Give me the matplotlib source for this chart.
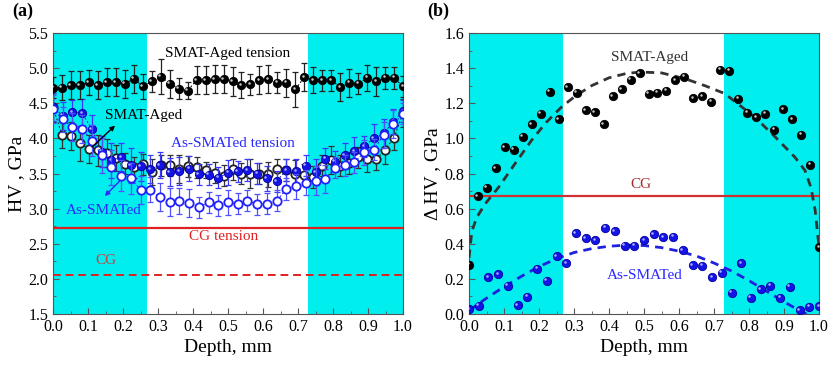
import numpy as np
import matplotlib
matplotlib.use("Agg")
import matplotlib.pyplot as plt
from matplotlib.transforms import offset_copy

plt.rcParams["font.family"] = ["Liberation Serif", "DejaVu Serif"]

## depth positions
x_aged = np.linspace(0, 1, 40)
x_as = np.linspace(0, 1, 37)

## (a) hardness, GPa
aged_tension = [4.72, 4.72, 4.76, 4.76, 4.80, 4.76, 4.80, 4.80, 4.78, 4.85,
                4.74, 4.81, 4.88, 4.78, 4.71, 4.68, 4.83, 4.83, 4.84, 4.84,
                4.81, 4.76, 4.77, 4.83, 4.84, 4.79, 4.79, 4.70, 4.87, 4.83,
                4.83, 4.83, 4.73, 4.79, 4.78, 4.86, 4.81, 4.86, 4.86, 4.74]
aged_tension_err = [0.15, 0.18, 0.20, 0.20, 0.18, 0.20, 0.20, 0.20, 0.20, 0.20,
                    0.18, 0.15, 0.25, 0.20, 0.15, 0.12, 0.20, 0.20, 0.20, 0.20,
                    0.20, 0.18, 0.15, 0.20, 0.20, 0.15, 0.20, 0.25, 0.20, 0.18,
                    0.15, 0.15, 0.20, 0.20, 0.15, 0.18, 0.20, 0.15, 0.15, 0.15]
aged = [4.44, 4.05, 4.04, 3.93, 3.85, 3.83, 3.79, 3.72, 3.64, 3.59,
        3.63, 3.52, 3.62, 3.62, 3.56, 3.60, 3.59, 3.55, 3.51, 3.47,
        3.56, 3.50, 3.50, 3.50, 3.49, 3.56, 3.55, 3.49, 3.48, 3.45,
        3.61, 3.69, 3.61, 3.65, 3.73, 3.70, 3.70, 3.84, 4.01, 4.36]
aged_err = [0.20, 0.18, 0.20, 0.25, 0.20, 0.22, 0.20, 0.18, 0.15, 0.15,
            0.15, 0.18, 0.15, 0.15, 0.20, 0.15, 0.15, 0.12, 0.15, 0.15,
            0.15, 0.15, 0.20, 0.15, 0.18, 0.15, 0.15, 0.20, 0.15, 0.15,
            0.15, 0.20, 0.15, 0.15, 0.15, 0.18, 0.15, 0.20, 0.18, 0.20]
as_tension = [4.45, 4.32, 4.37, 4.36, 4.13, 3.81, 3.69, 3.73, 3.62, 3.60,
              3.56, 3.62, 3.52, 3.53, 3.57, 3.49, 3.48, 3.44, 3.51, 3.53,
              3.55, 3.50, 3.43, 3.39, 3.55, 3.53, 3.61, 3.52, 3.71, 3.67,
              3.76, 3.82, 3.89, 4.00, 4.07, 4.24, 4.39]
as_tension_err = [0.20, 0.20, 0.18, 0.20, 0.20, 0.22, 0.25, 0.20, 0.25, 0.20,
                  0.20, 0.18, 0.20, 0.20, 0.18, 0.15, 0.15, 0.15, 0.18, 0.15,
                  0.15, 0.15, 0.18, 0.15, 0.15, 0.18, 0.15, 0.18, 0.15, 0.15,
                  0.18, 0.20, 0.15, 0.20, 0.20, 0.18, 0.15]
as_smated = [4.42, 4.27, 4.16, 4.13, 3.97, 3.76, 3.59, 3.47, 3.43, 3.27,
             3.27, 3.16, 3.09, 3.11, 3.08, 3.02, 3.09, 3.05, 3.09, 3.07,
             3.11, 3.06, 3.07, 3.11, 3.28, 3.32, 3.37, 3.40, 3.42, 3.58,
             3.62, 3.66, 3.80, 3.84, 4.05, 4.20, 4.35]
as_smated_err = [0.20, 0.18, 0.20, 0.20, 0.22, 0.25, 0.25, 0.22, 0.22, 0.20,
                 0.18, 0.20, 0.20, 0.18, 0.20, 0.15, 0.15, 0.15, 0.18, 0.15,
                 0.15, 0.15, 0.15, 0.15, 0.15, 0.18, 0.18, 0.20, 0.20, 0.15,
                 0.15, 0.15, 0.18, 0.15, 0.18, 0.20, 0.15]
cg_tension = 2.73
cg = 2.06

## (b) delta HV, GPa
d_aged = [0.28, 0.67, 0.72, 0.83, 0.95, 0.935, 1.01, 1.08, 1.14, 1.265,
          1.11, 1.29, 1.26, 1.16, 1.15, 1.08, 1.24, 1.28, 1.335, 1.37,
          1.255, 1.26, 1.27, 1.33, 1.35, 1.23, 1.24, 1.21, 1.39, 1.385,
          1.225, 1.145, 1.12, 1.14, 1.05, 1.165, 1.11, 1.02, 0.85, 0.38]
d_as = [0.027, 0.046, 0.21, 0.227, 0.16, 0.05, 0.097, 0.257, 0.189, 0.33,
        0.29, 0.46, 0.43, 0.42, 0.49, 0.47, 0.39, 0.39, 0.42, 0.455,
        0.436, 0.44, 0.364, 0.278, 0.274, 0.21, 0.236, 0.12, 0.29, 0.093,
        0.14, 0.16, 0.093, 0.156, 0.021, 0.04, 0.044]
d_cg = 0.67

## fit curves
fit_aged_x = [0, 0.008, 0.022, 0.046, 0.084, 0.131, 0.179, 0.22, 0.265, 0.303,
              0.35, 0.4, 0.45, 0.49, 0.55, 0.617, 0.674, 0.731, 0.817, 0.874,
              0.931, 0.96, 0.977, 0.989, 0.996, 1.0]
fit_aged_y = [0.32, 0.47, 0.55, 0.627, 0.72, 0.855, 0.99, 1.09, 1.18, 1.24,
              1.30, 1.345, 1.37, 1.378, 1.373, 1.34, 1.30, 1.255, 1.12, 1.01,
              0.893, 0.817, 0.72, 0.59, 0.455, 0.38]
fit_as_x = [0, 0.05, 0.1, 0.15, 0.2, 0.25, 0.3, 0.35, 0.4, 0.45, 0.5,
            0.55, 0.6, 0.65, 0.7, 0.75, 0.8, 0.85, 0.9, 0.95, 0.975]
fit_as_y = [0.02, 0.09, 0.155, 0.215, 0.27, 0.315, 0.35, 0.372, 0.386, 0.392, 0.39,
            0.378, 0.358, 0.33, 0.29, 0.245, 0.19, 0.13, 0.07, 0.012, -0.01]

cyan_regions = [(0.0, 0.268), (0.729, 1.0)]

CYAN = "#00eeee"
BLUE = "#1414e6"
RED = "#e02020"
EDGE = "#555555"


def spheres(ax, x, y, color, hl, ms, z=5):
    ax.plot(x, y, "o", color=color, mec="k" if color == "k" else "#0000a0",
            mew=0.6, ms=ms, zorder=z)
    tr = offset_copy(ax.transData, fig=ax.figure, x=-ms * 0.18, y=ms * 0.18, units="points")
    ax.plot(x, y, "o", color=hl, mew=0, ms=ms * 0.3, transform=tr, zorder=z + 0.1)


def style(ax, ylim, ymaj, ymin):
    for a, b in cyan_regions:
        ax.axvspan(a, b, color=CYAN, lw=0, zorder=0)
    ax.set_xlim(0, 1)
    ax.set_ylim(*ylim)
    ax.set_xticks(np.arange(0, 1.01, 0.1))
    ax.set_xticks(np.arange(0, 1.01, 0.05), minor=True)
    ax.set_yticks(np.arange(ylim[0], ylim[1] + 1e-6, ymaj))
    ax.set_yticks(np.arange(ylim[0], ylim[1] + 1e-6, ymin), minor=True)
    ax.tick_params(which="both", direction="in", labelsize=11.5, color=EDGE)
    ax.tick_params(which="major", length=4)
    ax.tick_params(which="minor", length=2)
    ax.yaxis.set_major_formatter(plt.FormatStrFormatter("%.1f"))
    ax.xaxis.set_major_formatter(plt.FormatStrFormatter("%.1f"))
    for s in ax.spines.values():
        s.set_color(EDGE)
    ax.set_xlabel("Depth, mm", fontsize=14, labelpad=3)


fig = plt.figure(figsize=(8.31, 3.67), dpi=100)

## (a)
ax1 = fig.add_axes([0.0638, 0.1444, 0.4212, 0.7656])
style(ax1, (1.5, 5.5), 0.5, 0.25)
ax1.set_ylabel("HV , GPa", fontsize=14, labelpad=2)

ax1.axhline(cg_tension, color=RED, lw=1.6, zorder=2)
ax1.axhline(cg, color=RED, lw=1.4, ls=(0, (4, 2.5)), zorder=2)

ax1.errorbar(x_aged, aged, yerr=aged_err, fmt="none", ecolor="#333333",
             elinewidth=0.9, capsize=2.5, capthick=0.9, zorder=3)
ax1.plot(x_aged, aged, "o", ms=6, mfc="white", mec="#222222", mew=1.3,
         ls=(0, (2, 2)), color="#222222", lw=0.7, zorder=4)

ax1.errorbar(x_as, as_tension, yerr=as_tension_err, fmt="none", ecolor="#3a3aff",
             elinewidth=0.9, capsize=2.5, capthick=0.9, zorder=5)
ax1.plot(x_as, as_tension, ls=(0, (2, 2)), color=BLUE, lw=0.7, zorder=5)
spheres(ax1, x_as, as_tension, BLUE, "#b0b0ff", 6, z=6)

ax1.errorbar(x_as, as_smated, yerr=as_smated_err, fmt="none", ecolor="#5050ff",
             elinewidth=0.9, capsize=2.5, capthick=0.9, zorder=7)
ax1.plot(x_as, as_smated, "o", ms=6, mfc="white", mec="#2020ff", mew=1.3,
         ls=(0, (2, 2)), color="#2020ff", lw=0.7, zorder=8)

ax1.errorbar(x_aged, aged_tension, yerr=aged_tension_err, fmt="none", ecolor="#222222",
             elinewidth=0.9, capsize=2.5, capthick=0.9, zorder=5)
ax1.plot(x_aged, aged_tension, ls=(0, (2, 2)), color="k", lw=0.7, zorder=5)
spheres(ax1, x_aged, aged_tension, "k", "#c8c8c8", 6, z=6)

ax1.text(0.5, 5.21, "SMAT-Aged tension", fontsize=11, ha="center", va="center", zorder=9)
ax1.text(0.26, 4.33, "SMAT-Aged", fontsize=11, ha="center", va="center", zorder=9)
ax1.annotate("", xy=(0.183, 4.21), xytext=(0.106, 3.85), zorder=9,
             arrowprops=dict(arrowstyle="-|>", color="k", lw=1.0, mutation_scale=7))
ax1.text(0.515, 3.93, "As-SMATed tension", fontsize=11, color="#2a2aff",
         ha="center", va="center", zorder=9)
ax1.text(0.145, 2.97, "As-SMATed", fontsize=11, color="#2a2aff", ha="center",
         va="center", zorder=9)
ax1.annotate("", xy=(0.142, 3.15), xytext=(0.196, 3.42), zorder=9,
             arrowprops=dict(arrowstyle="-|>", color="#2a2aff", lw=1.0, mutation_scale=7))
ax1.text(0.486, 2.6, "CG tension", fontsize=11, color=RED, ha="center", va="center")
ax1.text(0.151, 2.26, "CG", fontsize=11, color="#d03a3a", ha="center", va="center")

## (b)
ax2 = fig.add_axes([0.5644, 0.1444, 0.4212, 0.7656])
style(ax2, (0.0, 1.6), 0.2, 0.1)
ax2.set_ylabel("Δ HV , GPa", fontsize=14, labelpad=2)

ax2.axhline(d_cg, color="#d03030", lw=1.6, zorder=2)
ax2.plot(fit_aged_x, fit_aged_y, color="#333333", lw=2.0, ls=(0, (3, 2.2)), zorder=3)
ax2.plot(fit_as_x, fit_as_y, color="#2020e0", lw=2.0, ls=(0, (3, 2.2)), zorder=3)
spheres(ax2, x_aged, d_aged, "k", "#c8c8c8", 6, z=5)
spheres(ax2, x_as, d_as, BLUE, "#b0b0ff", 6, z=5)

ax2.text(0.517, 1.46, "SMAT-Aged", fontsize=11, color="#333333", ha="center", va="center")
ax2.text(0.49, 0.74, "CG", fontsize=11, color="#a02828", ha="center", va="center")
ax2.text(0.503, 0.22, "As-SMATed", fontsize=11, color="#2a2aff", ha="center", va="center")

fig.text(12 / 831, 1 - 11 / 367, "(a)", fontsize=13, fontweight="bold", va="center")
fig.text(427 / 831, 1 - 11 / 367, "(b)", fontsize=13, fontweight="bold", va="center")

fig.savefig("out.png", dpi=100)
